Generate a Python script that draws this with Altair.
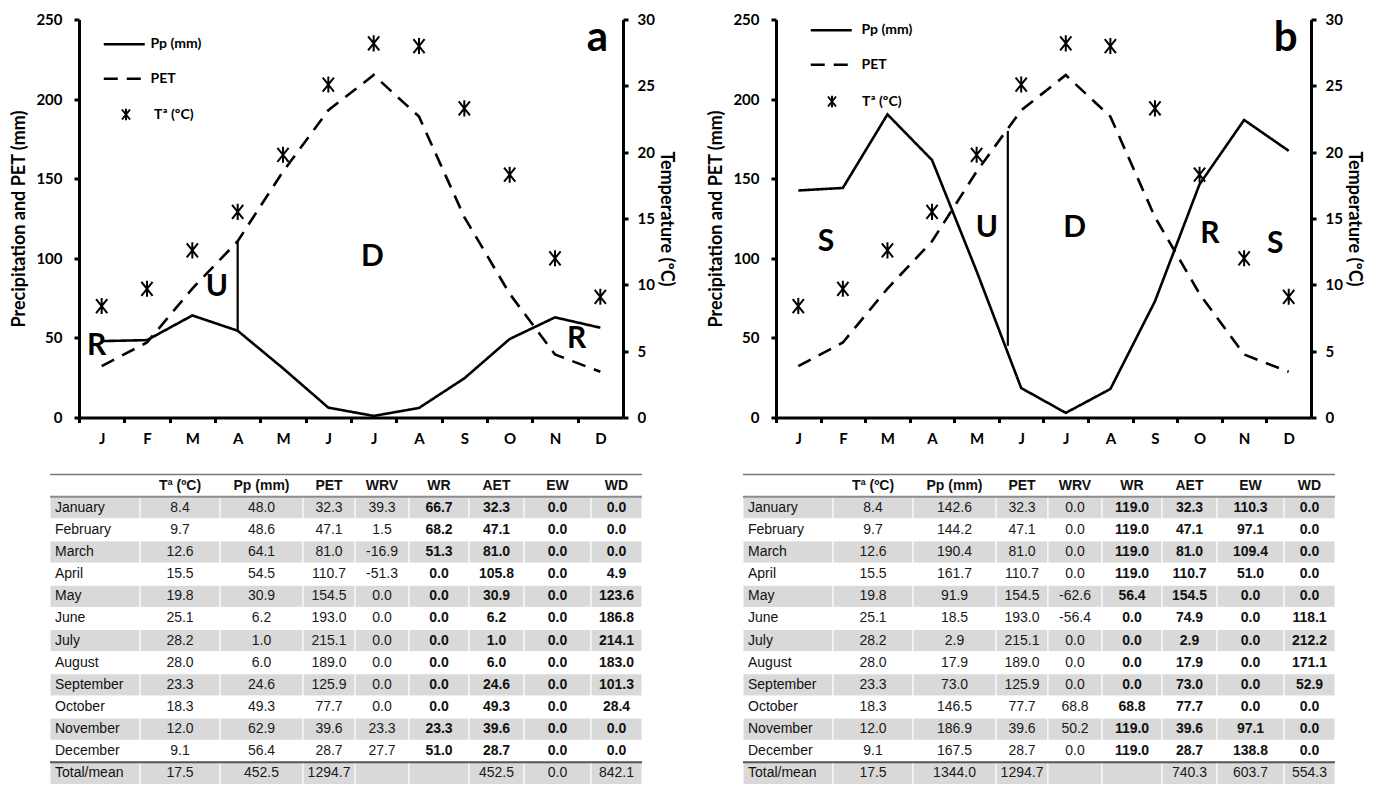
import altair as alt
import pandas as pd

# ---------------- data ----------------
MONTH_NUM = list(range(1, 13))
MONTH_LETTERS = ["J", "F", "M", "A", "M", "J", "J", "A", "S", "O", "N", "D"]
MONTH_NAMES = ["January", "February", "March", "April", "May", "June", "July",
               "August", "September", "October", "November", "December"]

TEMP = [8.4, 9.7, 12.6, 15.5, 19.8, 25.1, 28.2, 28.0, 23.3, 18.3, 12.0, 9.1]
PET = [32.3, 47.1, 81.0, 110.7, 154.5, 193.0, 215.1, 189.0, 125.9, 77.7, 39.6, 28.7]

PP_A = [48.0, 48.6, 64.1, 54.5, 30.9, 6.2, 1.0, 6.0, 24.6, 49.3, 62.9, 56.4]
WRV_A = [39.3, 1.5, -16.9, -51.3, 0.0, 0.0, 0.0, 0.0, 0.0, 0.0, 23.3, 27.7]
WR_A = [66.7, 68.2, 51.3, 0.0, 0.0, 0.0, 0.0, 0.0, 0.0, 0.0, 23.3, 51.0]
AET_A = [32.3, 47.1, 81.0, 105.8, 30.9, 6.2, 1.0, 6.0, 24.6, 49.3, 39.6, 28.7]
EW_A = [0.0] * 12
WD_A = [0.0, 0.0, 0.0, 4.9, 123.6, 186.8, 214.1, 183.0, 101.3, 28.4, 0.0, 0.0]
TOTAL_A = [17.5, 452.5, 1294.7, None, None, 452.5, 0.0, 842.1]

PP_B = [142.6, 144.2, 190.4, 161.7, 91.9, 18.5, 2.9, 17.9, 73.0, 146.5, 186.9, 167.5]
WRV_B = [0.0, 0.0, 0.0, 0.0, -62.6, -56.4, 0.0, 0.0, 0.0, 68.8, 50.2, 0.0]
WR_B = [119.0, 119.0, 119.0, 119.0, 56.4, 0.0, 0.0, 0.0, 0.0, 68.8, 119.0, 119.0]
AET_B = [32.3, 47.1, 81.0, 110.7, 154.5, 74.9, 2.9, 17.9, 73.0, 77.7, 39.6, 28.7]
EW_B = [110.3, 97.1, 109.4, 51.0, 0.0, 0.0, 0.0, 0.0, 0.0, 0.0, 97.1, 138.8]
WD_B = [0.0, 0.0, 0.0, 0.0, 0.0, 118.1, 212.2, 171.1, 52.9, 0.0, 0.0, 0.0]
TOTAL_B = [17.5, 1344.0, 1294.7, None, None, 740.3, 603.7, 554.3]

SERIES = ["Pp (mm)", "PET"]
TEMP_LABEL = "Tª (ºC)"

VALUE_COLS = ["Tª (ºC)", "Pp (mm)", "PET", "WRV", "WR", "AET", "EW", "WD"]
BOLD_COLS = ["WR", "AET", "EW", "WD"]
TOTAL_NAME = "Total/mean"

# zone annotations (month position, value)
ZONES_A_TEXT = ["R", "U", "D", "R"]
ZONES_A_X = [0.89, 3.54, 6.97, 11.48]
ZONES_A_Y = [45, 82, 101, 49]
ZONES_B_TEXT = ["S", "U", "D", "R", "S"]
ZONES_B_X = [1.62, 5.23, 7.2, 10.23, 11.7]
ZONES_B_Y = [110, 119, 119, 115, 109]

# vertical separators: month position, from value, to value
SEP_A = [4.0, 54.5, 110.7]
SEP_B = [5.70, 45.0, 180.0]

# ---------------- style / layout ----------------
CF = "Lato"
TF = "Liberation Sans"
ASTERISK = "M-0.8,-1L0.8,1M-0.8,1L0.8,-1M0,-1.15L0,1.15"
LINE_SYMBOL = "M-2,0L2,0"
COL_WIDTHS = [90, 80, 83, 52, 54, 60, 55, 67, 51]
GRAY_ROWS = ["January", "March", "May", "July", "September", "November", TOTAL_NAME]
ROW_KEYS = ["Header"] + MONTH_NAMES + [TOTAL_NAME]
CHART_H = 398
TABLE_H = 310

LABEL_EXPR = "[" + ",".join("'%s'" % m for m in MONTH_LETTERS) + "][datum.value - 1]"


def axis_style(**kw):
    base = dict(domainWidth=3, domainColor="black", tickWidth=3, tickSize=5,
                tickColor="black", labelFont=CF, labelFontWeight="bold",
                labelFontSize=15, labelColor="black", grid=False,
                titleFont=CF, titleFontWeight="bold", titleFontSize=18,
                titleColor="black")
    base.update(kw)
    return alt.Axis(**base)


def climate(pp, width, sep, zt, zx, zy, letter, lg):
    band = width / 12.0
    x = alt.X("m:Q", title=None,
              scale=alt.Scale(domain=[0.5, 12.5], nice=False, zero=False),
              axis=axis_style(values=MONTH_NUM, labelExpr=LABEL_EXPR,
                              tickOffset=-band / 2, labelOffset=band / 2,
                              labelPadding=9, labelFlush=False, title=None))
    yaxis = axis_style(values=[0, 50, 100, 150, 200, 250],
                       title="Precipitation and PET (mm)",
                       labelPadding=12, titlePadding=7)
    yl = alt.Y("v:Q", scale=alt.Scale(domain=[0, 250], nice=False, zero=True),
               axis=yaxis)

    lines_df = pd.DataFrame({
        "m": MONTH_NUM * 2,
        "v": list(pp) + list(PET),
        "series": [SERIES[0]] * 12 + [SERIES[1]] * 12,
    })
    lines = alt.Chart(lines_df).mark_line(color="black", strokeWidth=2.6).encode(
        x=x, y=yl,
        strokeDash=alt.StrokeDash(
            "series:N",
            scale=alt.Scale(domain=SERIES, range=[[1, 0], [14, 9]]),
            legend=alt.Legend(title=None, orient="none", legendX=lg[0], legendY=lg[1],
                              symbolType=LINE_SYMBOL, symbolSize=420,
                              symbolStrokeWidth=2.6, symbolStrokeColor="black",
                              labelFont=CF, labelFontWeight="bold", labelFontSize=14,
                              labelColor="black", labelOffset=lg[2],
                              rowPadding=lg[3], padding=0)),
    )

    sep_df = pd.DataFrame({"m": [sep[0]], "v": [sep[1]], "v2": [sep[2]]})
    rule = alt.Chart(sep_df).mark_rule(color="black", strokeWidth=2.2).encode(
        x=x, y=yl, y2="v2:Q")

    zones_df = pd.DataFrame({"m": zx, "v": zy, "t": zt})
    zones = alt.Chart(zones_df).mark_text(
        font=CF, fontWeight="bold", fontSize=30, color="black", baseline="middle"
    ).encode(x=x, y=yl, text="t:N")

    letter_df = pd.DataFrame({"m": [12], "v": [230], "t": [letter]})
    let = alt.Chart(letter_df).mark_text(
        font=CF, fontWeight="bold", fontSize=42, color="black",
        baseline="alphabetic", dx=-3
    ).encode(x=x, y=yl, text="t:N")

    tdf = pd.DataFrame({"m": MONTH_NUM, "t": TEMP, "tname": [TEMP_LABEL] * 12})
    pts = alt.Chart(tdf).mark_point(filled=False, color="black", strokeWidth=2,
                                    size=196, opacity=1).encode(
        x=x,
        y=alt.Y("t:Q", scale=alt.Scale(domain=[0, 30], nice=False),
                axis=axis_style(orient="right", values=[0, 5, 10, 15, 20, 25, 30],
                                title="Temperature (ºC)", labelPadding=9,
                                titlePadding=2)),
        shape=alt.Shape(
            "tname:N",
            scale=alt.Scale(domain=[TEMP_LABEL], range=[ASTERISK]),
            legend=alt.Legend(title=None, orient="none", legendX=lg[4], legendY=lg[5],
                              symbolSize=100, symbolStrokeWidth=2,
                              symbolStrokeColor="black", symbolFillColor="transparent",
                              labelFont=CF, labelFontWeight="bold", labelFontSize=14,
                              labelColor="black", labelOffset=lg[6], padding=0)),
    )

    left = alt.layer(lines, rule, zones, let)
    return alt.layer(left, pts).resolve_scale(y="independent").properties(
        width=width, height=CHART_H)


def table(values, totals, width, offset):
    starts = [sum(COL_WIDTHS[:i]) for i in range(len(COL_WIDTHS))]
    total_w = sum(COL_WIDTHS)
    recs = []
    for j, h in enumerate(VALUE_COLS):
        c = j + 1
        recs.append(dict(row="Header", text=h, kind="header", xs=starts[c],
                         xc=starts[c] + COL_WIDTHS[c] / 2))
    for i, name in enumerate(MONTH_NAMES):
        recs.append(dict(row=name, text=name, kind="name", xs=0, xc=COL_WIDTHS[0] / 2))
        for j, col in enumerate(VALUE_COLS):
            c = j + 1
            recs.append(dict(row=name, text="%.1f" % values[j][i],
                             kind="bold" if col in BOLD_COLS else "plain",
                             xs=starts[c], xc=starts[c] + COL_WIDTHS[c] / 2))
    recs.append(dict(row=TOTAL_NAME, text=TOTAL_NAME, kind="name", xs=0, xc=COL_WIDTHS[0] / 2))
    for j, v in enumerate(totals):
        if v is None:
            continue
        c = j + 1
        recs.append(dict(row=TOTAL_NAME, text="%.1f" % v, kind="plain",
                         xs=starts[c], xc=starts[c] + COL_WIDTHS[c] / 2))
    tdf = pd.DataFrame(recs)

    cells = pd.DataFrame([dict(row=r, xs=starts[c], xe=starts[c] + COL_WIDTHS[c])
                          for r in GRAY_ROWS for c in range(len(COL_WIDTHS))])

    xs = alt.Scale(domain=[offset, offset + width], nice=False, zero=False)
    ys = alt.Scale(domain=ROW_KEYS, paddingInner=0, paddingOuter=0)
    Y = alt.Y("row:N", scale=ys, axis=None, title=None)

    rect = alt.Chart(cells).mark_rect(color="#d9d9d9", stroke="white", strokeWidth=1).encode(
        x=alt.X("xs:Q", scale=xs, axis=None, title=None), x2="xe:Q", y=Y)

    def txt(kind, **kw):
        return alt.Chart(tdf).transform_filter(alt.datum.kind == kind).mark_text(
            font=TF, fontSize=14, baseline="middle", **kw)

    names = txt("name", align="left", dx=5, color="#111111").encode(
        x=alt.X("xs:Q", scale=xs, axis=None), y=Y, text="text:N")
    plain = txt("plain", align="center", color="#1a1a1a").encode(
        x=alt.X("xc:Q", scale=xs, axis=None), y=Y, text="text:N")
    bold = txt("bold", align="center", fontWeight="bold", color="#111111").encode(
        x=alt.X("xc:Q", scale=xs, axis=None), y=Y, text="text:N")
    header = txt("header", align="center", fontWeight="bold", color="#111111").encode(
        x=alt.X("xc:Q", scale=xs, axis=None), y=Y, text="text:N")

    def hline(row, pos, color, w):
        d = pd.DataFrame({"row": [row], "xs": [0], "xe": [total_w]})
        return alt.Chart(d).mark_rule(color=color, strokeWidth=w).encode(
            x=alt.X("xs:Q", scale=xs, axis=None), x2="xe:Q",
            y=alt.Y("row:N", scale=ys, axis=None, title=None, bandPosition=pos))

    top = hline("Header", 0, "#7a7a7a", 1.6)
    under = hline("Header", 1, "#8c8c8c", 2)
    tot = hline(TOTAL_NAME, 0, "#555555", 2)

    return alt.layer(rect, top, under, tot, names, plain, bold, header).properties(
        width=width, height=TABLE_H)


W_A, W_B = 544, 535

chart_a = climate(PP_A, W_A, SEP_A, ZONES_A_TEXT, ZONES_A_X, ZONES_A_Y, "a",
                  [33.25, 12.75, 14.25, 15.5, 40, 88, 21])
chart_b = climate(PP_B, W_B, SEP_B, ZONES_B_TEXT, ZONES_B_X, ZONES_B_Y, "b",
                  [43.25, -1.25, 18.25, 15.5, 49, 75, 23])

table_a = table([TEMP, PP_A, PET, WRV_A, WR_A, AET_A, EW_A, WD_A], TOTAL_A, W_A, 29)
table_b = table([TEMP, PP_B, PET, WRV_B, WR_B, AET_B, EW_B, WD_B], TOTAL_B, W_B, 33)

chart = alt.concat(chart_a, chart_b, table_a, table_b, columns=2,
                   spacing={"row": 57, "column": 153},
                   bounds="flush", align="each").resolve_scale(
    x="independent", y="independent", strokeDash="independent", shape="independent"
).resolve_legend(strokeDash="independent", shape="independent").properties(
    padding={"left": 2, "top": 4.5, "right": 4, "bottom": 0}
).configure_view(strokeWidth=0)

chart.save("out.html", embed_options={"renderer": "svg", "actions": False})
